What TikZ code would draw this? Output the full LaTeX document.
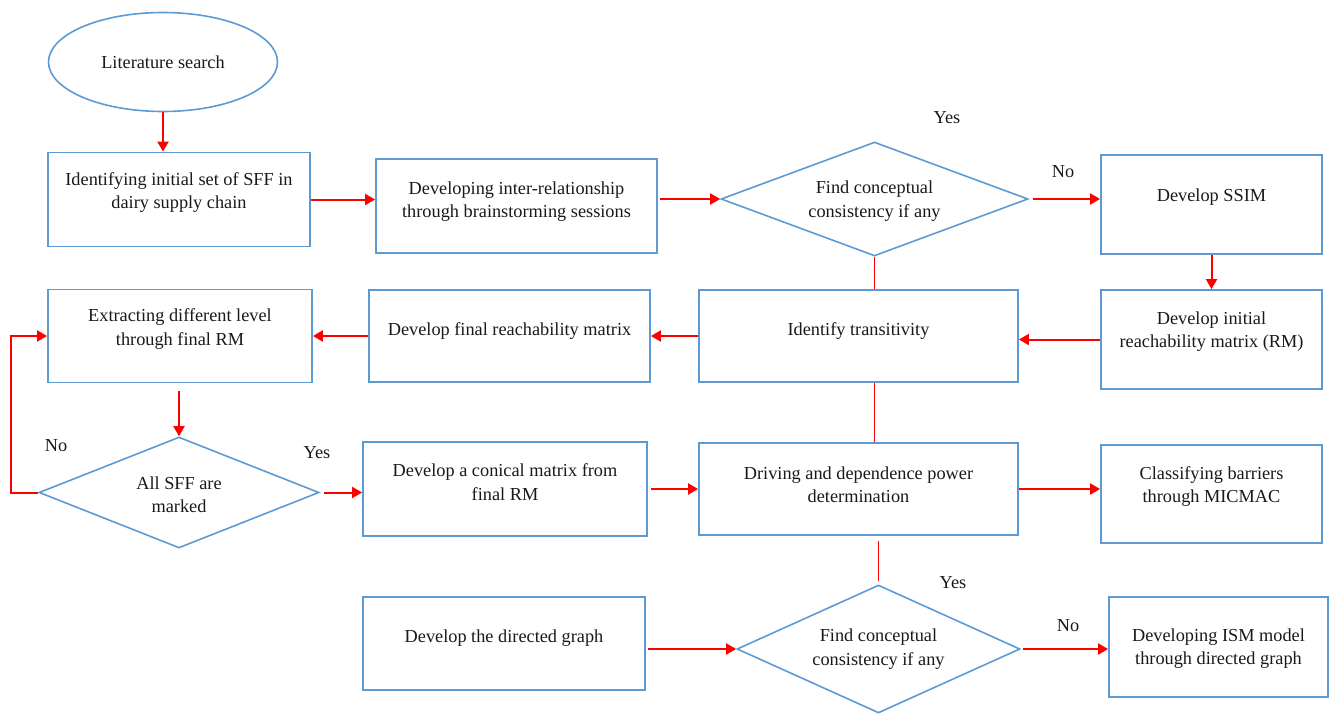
\documentclass[tikz,border=0pt]{standalone}
\usepackage{fontspec}
\setmainfont{Liberation Serif}
\usetikzlibrary{positioning, arrows.meta, shapes.geometric, calc}
\definecolor{boxBlue}{RGB}{91,155,213}
\definecolor{arrowRed}{RGB}{255,0,0}
\definecolor{textDark}{RGB}{25,25,25}
\def\colA{179}
\def\colB{507}
\def\colC{858.5}
\def\colD{1211.5}
\def\rowA{199.5}
\def\rowB{336}
\def\rowC{490}
\def\rowD{647}
% text sits a little above the middle of each box
\newcommand{\liftText}[2]{\raisebox{#1}[\height][\depth]{\begin{tabular}{@{}c@{}}#2\end{tabular}}}

\begin{document}
\begin{tikzpicture}[
    x=1pt, y=-1pt,
    font=\fontsize{18.3}{23.5}\selectfont,
    >={Triangle[length=10pt, width=11pt]},
    arrow/.style       ={->, line width=2pt, arrowRed},
    link/.style        ={line width=1.6pt, arrowRed},
    processBox/.style  ={rectangle, draw=boxBlue, line width=1.8pt,
                         text=textDark, inner sep=4pt, anchor=center},
    decisionStyle/.style={diamond, draw=boxBlue, line width=1.6pt,
                         text=textDark, inner sep=0pt, shape aspect=2.5, anchor=center},
    startStyle/.style  ={ellipse, draw=boxBlue, line width=1.6pt, text=textDark,
                         minimum width=229pt, minimum height=99pt},
    answerLabel/.style ={text=textDark, inner sep=0pt},
]
\useasboundingbox (0,0) rectangle (1331,715);

% =====================================================
% TOP ROW
% =====================================================
\node[startStyle] (litsearch) at (163,62) {Literature search};

\node[processBox, minimum width=262pt, minimum height=94pt]
                     (initset)  at (\colA,\rowA)  {\liftText{7pt}{Identifying initial set of SFF in\\dairy supply chain}};
\node[processBox, minimum width=281pt, minimum height=94pt]
                     (interrel) at (516.5,206)    {\liftText{4.5pt}{Developing inter-relationship\\through brainstorming sessions}};
\node[decisionStyle, minimum width=307pt, minimum height=114pt, shape aspect=2.7]
                     (consA)    at (874.5,199)    {\liftText{-2pt}{Find conceptual\\consistency if any}};
\node[processBox, minimum width=221pt, minimum height=99pt]
                     (ssim)     at (\colD,204.5)  {\liftText{8pt}{Develop SSIM}};

% =====================================================
% SECOND ROW
% =====================================================
\node[processBox, minimum width=264pt, minimum height=93pt]
                     (extract)  at (180,\rowB)    {\liftText{7pt}{Extracting different level\\through final RM}};
\node[processBox, minimum width=281pt, minimum height=92pt]
                     (finrm)    at (509.5,\rowB)  {\liftText{5pt}{Develop final reachability matrix}};
\node[processBox, minimum width=319pt, minimum height=92pt]
                     (transit)  at (\colC,\rowB)  {\liftText{5pt}{Identify transitivity}};
\node[processBox, minimum width=221pt, minimum height=99pt]
                     (initrm)   at (\colD,339.5)  {\liftText{8pt}{Develop initial\\reachability matrix (RM)}};

% =====================================================
% THIRD ROW
% =====================================================
\node[decisionStyle, minimum width=280pt, minimum height=111pt]
                     (allsff)   at (\colA,492.5)  {\liftText{-4pt}{All SFF are\\marked}};
\node[processBox, minimum width=284pt, minimum height=94pt]
                     (conical)  at (505,489)      {\liftText{5pt}{Develop a conical matrix from\\final RM}};
\node[processBox, minimum width=319pt, minimum height=92pt]
                     (driving)  at (\colC,489)    {\liftText{2.5pt}{Driving and dependence power\\determination}};
\node[processBox, minimum width=221pt, minimum height=98pt]
                     (classify) at (\colD,494)    {\liftText{7.5pt}{Classifying barriers\\through MICMAC}};

% =====================================================
% BOTTOM ROW
% =====================================================
\node[processBox, minimum width=282pt, minimum height=93pt]
                     (directed) at (504,643.5)    {\liftText{5.5pt}{Develop the directed graph}};
\node[decisionStyle, minimum width=283pt, minimum height=128pt, shape aspect=2.2]
                     (consB)    at (878.5,649)    {\liftText{0pt}{Find conceptual\\consistency if any}};
\node[processBox, minimum width=219pt, minimum height=100pt]
                     (ism)      at (1218.5,\rowD) {\liftText{-1.5pt}{Developing ISM model\\through directed graph}};

% Yes / No labels
\node[answerLabel] (yesA) at (947,118) {Yes};
\node[answerLabel] (noA)  at (1063,172) {No};
\node[answerLabel] (noB)  at (56,446)  {No};
\node[answerLabel] (yesB) at (317,453) {Yes};
\node[answerLabel] (yesC) at (953,583) {Yes};
\node[answerLabel] (noC)  at (1068,626) {No};

% =====================================================
% Connecting arrows
% =====================================================
\draw[arrow] (litsearch.south) -- (litsearch.south |- initset.north);
\draw[arrow] (initset.east) -- (initset.east -| interrel.west);
\draw[arrow, shorten <=2pt] (interrel.east |- consA.west) -- (consA.west);
\draw[arrow, shorten <=4pt] (consA.east) -- (consA.east -| ssim.west);
\draw[arrow] (ssim.south) -- (initrm.north);
\draw[arrow] (initrm.west) -- (initrm.west -| transit.east);
\draw[arrow] (transit.west) -- (transit.west -| finrm.east);
\draw[arrow] (finrm.west) -- (finrm.west -| extract.east);
\draw[arrow, shorten <=8pt] (extract.south -| allsff.north) -- (allsff.north);

% No -> back to level extraction
\draw[arrow] (allsff.west) -- ++(-27,0) |- (extract.west);

\draw[arrow, shorten <=4pt] (allsff.east) -- (allsff.east -| conical.west);
\draw[arrow, shorten <=3pt] (conical.east) -- (conical.east -| driving.west);
\draw[arrow] (driving.east) -- (driving.east -| classify.west);
\draw[arrow, shorten <=2pt] (directed.east |- consB.west) -- (consB.west);
\draw[arrow, shorten <=2pt] (consB.east) -- (consB.east -| ism.west);

% Plain vertical links
\draw[link] (consA.south) -- (consA.south |- transit.north);
\draw[link] (transit.south -| consA.south) -- (driving.north -| consA.south);
\draw[link, shorten <=5pt, shorten >=3pt] (consB.north |- driving.south) -- (consB.north);

\end{tikzpicture}
\end{document}
